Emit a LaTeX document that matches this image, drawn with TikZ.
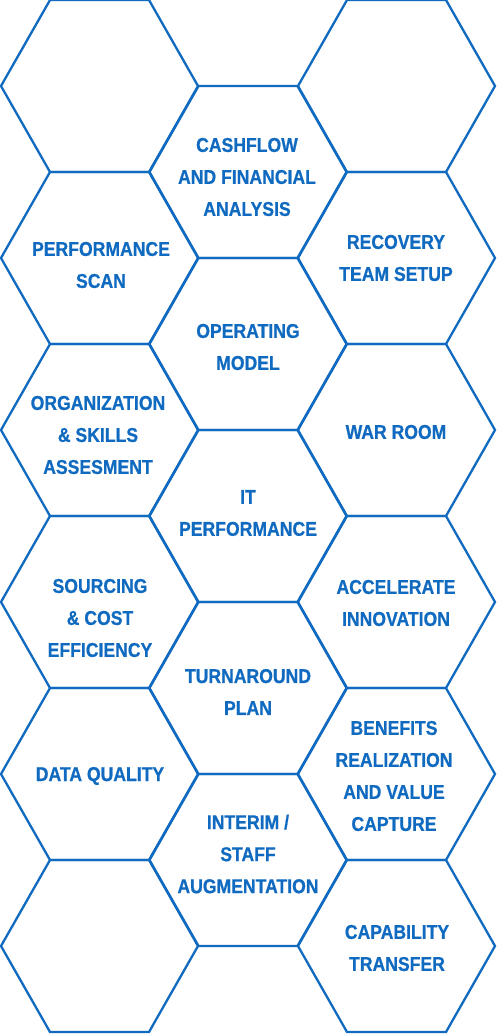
\documentclass[tikz,border=0pt]{standalone}
\usepackage{fontspec}
\setmainfont{Liberation Sans}[FakeStretch=0.88, BoldFeatures={FakeBold=0.7}]
\definecolor{hexblue}{RGB}{16,106,192}
\tikzset{
  hexline/.style={draw=hexblue, line width=2.3pt, line join=miter},
  hex/.pic={\path[hexline] (-98.5,0) -- (-49.5,-86) -- (49.5,-86) -- (98.5,0) -- (49.5,86) -- (-49.5,86) -- cycle;},
  lbl/.style={text=hexblue, font=\fontsize{20}{32}\selectfont\bfseries, align=center, inner sep=0pt}
}
\begin{document}
\begin{tikzpicture}[x=1pt,y=-1pt]
\useasboundingbox (0,0) rectangle (496,1034);
% left column
\foreach \yy in {86,258,430,602,774,946} {\pic at (99.5,\yy) {hex};}
% middle column
\foreach \yy in {172,344,516,688,860} {\pic at (248,\yy) {hex};}
% right column
\foreach \yy in {86,258,430,602,774,946} {\pic at (396.5,\yy) {hex};}
% labels
\node[lbl] (cash) at (247,177) {CASHFLOW\\AND FINANCIAL\\ANALYSIS};
\node[lbl] (perf) at (101,265) {PERFORMANCE\\SCAN};
\node[lbl] (recov) at (396,258) {RECOVERY\\TEAM SETUP};
\node[lbl] (opmod) at (248,347) {OPERATING\\MODEL};
\node[lbl] (org) at (98,435) {ORGANIZATION\\\& SKILLS\\ASSESMENT};
\node[lbl] (war) at (396,432) {WAR ROOM};
\node[lbl] (itperf) at (248,513) {IT\\PERFORMANCE};
\node[lbl] (sourc) at (100,618) {SOURCING\\\& COST\\EFFICIENCY};
\node[lbl] (accel) at (396,603) {ACCELERATE\\INNOVATION};
\node[lbl] (turn) at (248,692) {TURNAROUND\\PLAN};
\node[lbl] (data) at (100,776) {DATA QUALITY};
\node[lbl] (benef) at (394,776) {BENEFITS\\REALIZATION\\AND VALUE\\CAPTURE};
\node[lbl] (interim) at (248,854) {INTERIM /\\STAFF\\AUGMENTATION};
\node[lbl] (capab) at (397,948) {CAPABILITY\\TRANSFER};
\end{tikzpicture}
\end{document}
